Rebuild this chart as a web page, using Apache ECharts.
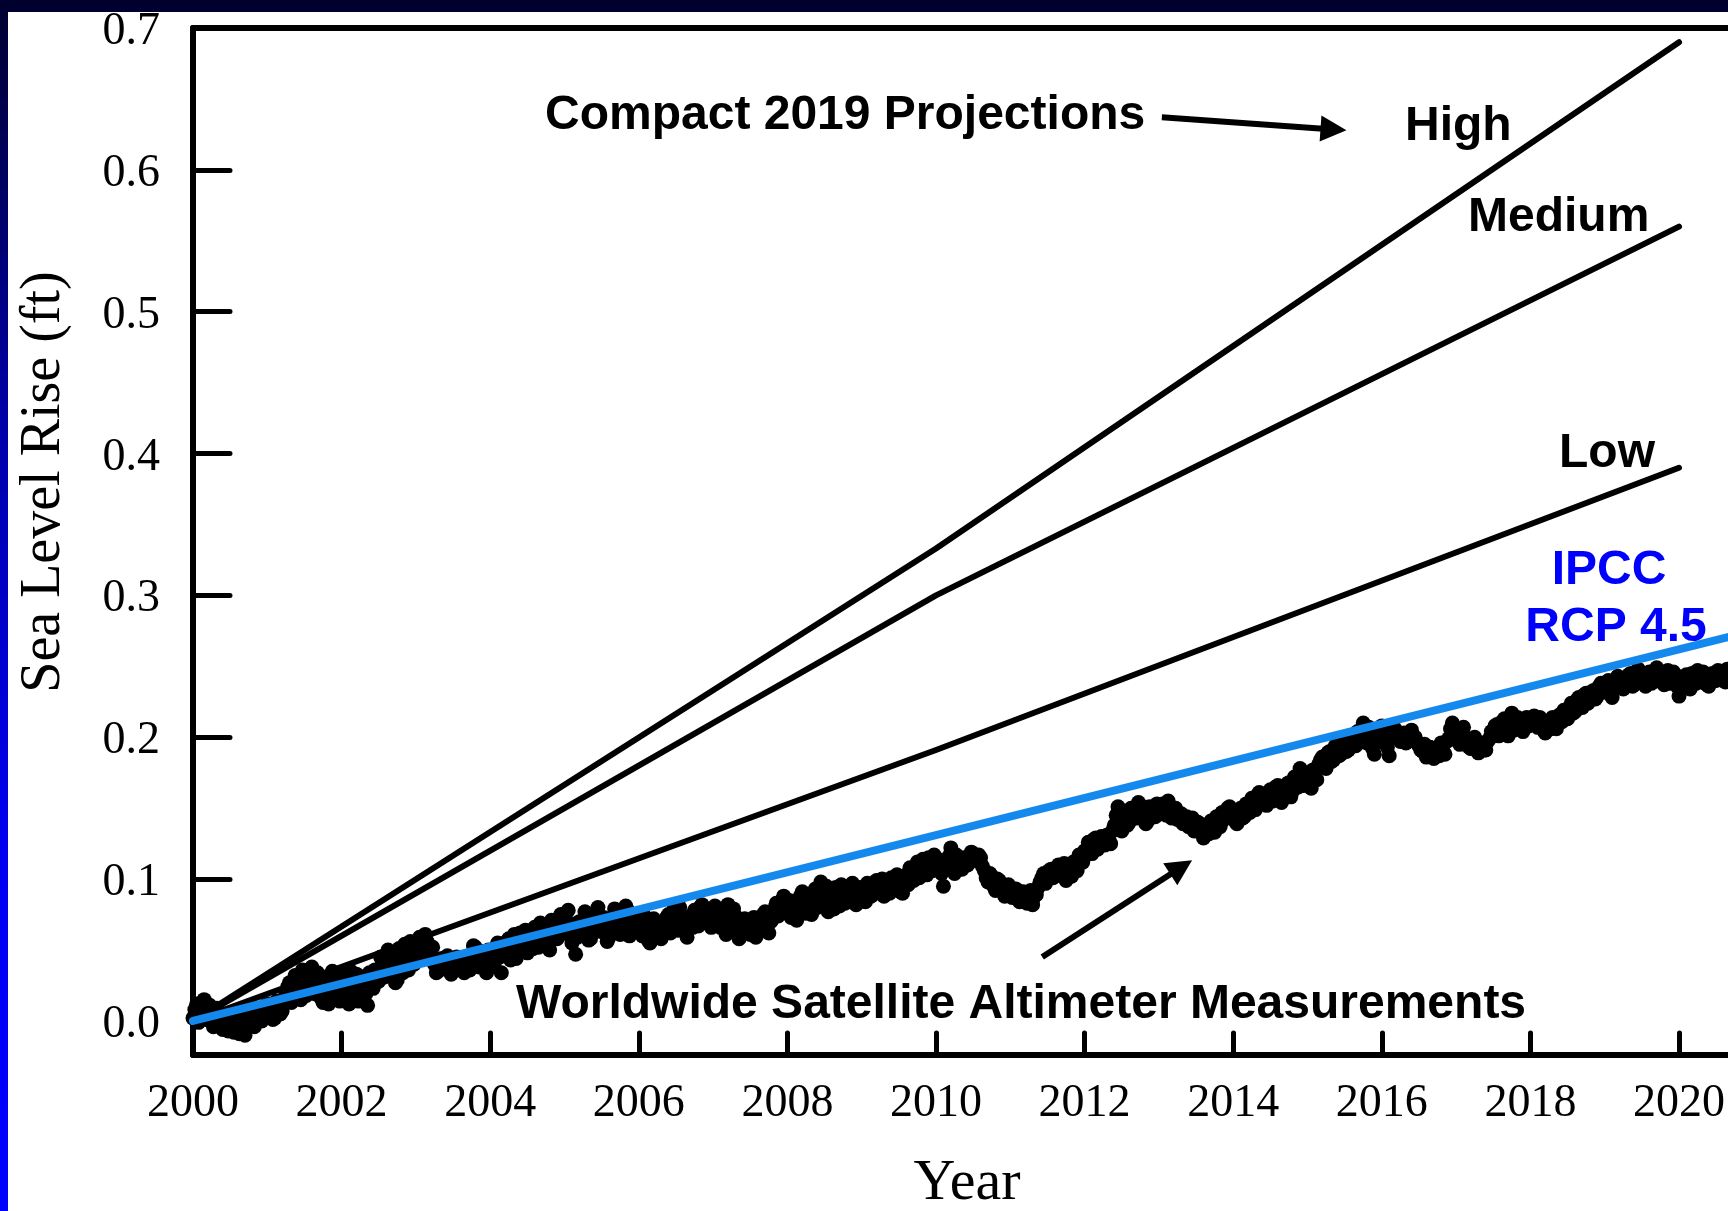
<!DOCTYPE html>
<html>
<head>
<meta charset="utf-8">
<script src="https://cdn.jsdelivr.net/npm/echarts@6/dist/echarts.min.js"></script>
<style>
html,body{margin:0;padding:0;width:1728px;height:1211px;overflow:hidden;
  background:linear-gradient(to bottom,#00002e 0%,#0000a8 35%,#0000f0 70%,#0000ff 100%);}
#panel{position:absolute;left:8px;top:12px;width:1720px;height:1199px;background:#ffffff;}
#chart{position:absolute;left:0;top:0;width:1728px;height:1211px;}
</style>
</head>
<body>
<div id="panel"></div>
<div id="chart"></div>
<script>
// ---------- DATA ----------
const xTickValues = [2000, 2002, 2004, 2006, 2008, 2010, 2012, 2014, 2016, 2018, 2020];
const yTickValues = [0, 0.1, 0.2, 0.3, 0.4, 0.5, 0.6, 0.7];

// Compact 2019 projections (ft)
const projYears = [2000, 2010, 2020];
const highValues = [0, 0.333, 0.690];
const mediumValues = [0, 0.300, 0.560];
const lowValues = [0, 0.191, 0.390];

// IPCC RCP 4.5
const ipccYears = [2000, 2010, 2021];
const ipccValues = [0, 0.131, 0.275];

// Worldwide satellite altimeter measurements (ft), two interleaved sample sets
// set A at 2000.000 + k*0.05 yr, set B at 2000.025 + k*0.05 yr
const satStartA = 2000.0;
const satStartB = 2000.025;
const satStepYear = 0.05;
const satValuesA = [
  /*2000*/ 0.002,0.012,0.006,0.015,0.004,0.008,-0.002,0.005,-0.006,0.001,-0.003,-0.008,0.000,-0.004,-0.010,-0.002,0.003,-0.001,0.006,0.002,
  /*2001*/ 0.004,0.009,0.002,0.011,0.007,0.018,0.027,0.021,0.029,0.015,0.033,0.024,0.038,0.019,0.028,0.013,0.031,0.022,0.017,0.026,
  /*2002*/ 0.020,0.029,0.012,0.024,0.033,0.018,0.027,0.011,0.030,0.036,0.028,0.041,0.033,0.047,0.038,0.029,0.044,0.054,0.036,0.048,
  /*2003*/ 0.052,0.059,0.049,0.056,0.046,0.040,0.035,0.044,0.038,0.042,0.036,0.045,0.039,0.034,0.041,0.047,0.052,0.038,0.044,0.034,
  /*2004*/ 0.049,0.040,0.055,0.034,0.047,0.058,0.051,0.044,0.062,0.053,0.048,0.059,0.066,0.052,0.057,0.063,0.050,0.068,0.058,0.075,
  /*2005*/ 0.066,0.078,0.055,0.047,0.070,0.062,0.074,0.058,0.067,0.080,0.063,0.071,0.059,0.066,0.075,0.061,0.069,0.078,0.064,0.072,
  /*2006*/ 0.070,0.060,0.066,0.055,0.072,0.063,0.058,0.068,0.075,0.066,0.071,0.080,0.069,0.059,0.074,0.078,0.067,0.082,0.073,0.077,
  /*2007*/ 0.071,0.079,0.066,0.075,0.082,0.068,0.074,0.058,0.065,0.070,0.061,0.073,0.064,0.069,0.077,0.062,0.072,0.083,0.076,0.088,
  /*2008*/ 0.078,0.073,0.084,0.079,0.091,0.076,0.082,0.087,0.080,0.098,0.090,0.077,0.085,0.094,0.081,0.088,0.093,0.084,0.090,0.086,
  /*2009*/ 0.091,0.084,0.095,0.089,0.099,0.092,0.088,0.096,0.101,0.093,0.098,0.090,0.103,0.108,0.099,0.112,0.104,0.110,0.115,0.106,
  /*2010*/ 0.108,0.113,0.095,0.110,0.122,0.104,0.112,0.107,0.114,0.116,0.118,0.113,0.115,0.106,0.098,0.102,0.092,0.099,0.095,0.090,
  /*2011*/ 0.094,0.088,0.092,0.085,0.090,0.086,0.082,0.089,0.098,0.104,0.100,0.107,0.102,0.110,0.105,0.099,0.108,0.112,0.106,0.115,
  /*2012*/ 0.120,0.126,0.118,0.129,0.123,0.127,0.131,0.125,0.138,0.151,0.134,0.145,0.140,0.148,0.143,0.152,0.146,0.141,0.150,0.144,
  /*2013*/ 0.149,0.153,0.145,0.151,0.147,0.142,0.146,0.140,0.137,0.143,0.135,0.139,0.129,0.136,0.141,0.133,0.140,0.147,0.143,0.151,
  /*2014*/ 0.146,0.139,0.150,0.144,0.152,0.157,0.149,0.161,0.155,0.152,0.163,0.158,0.166,0.154,0.160,0.168,0.162,0.170,0.178,0.166,
  /*2015*/ 0.172,0.164,0.176,0.181,0.186,0.178,0.190,0.184,0.193,0.188,0.196,0.191,0.199,0.194,0.200,0.210,0.196,0.203,0.188,0.205,
  /*2016*/ 0.208,0.198,0.187,0.201,0.204,0.197,0.203,0.199,0.205,0.200,0.194,0.190,0.186,0.193,0.185,0.191,0.196,0.188,0.199,0.210,
  /*2017*/ 0.202,0.195,0.207,0.198,0.192,0.200,0.189,0.196,0.191,0.199,0.203,0.209,0.205,0.213,0.201,0.217,0.208,0.212,0.204,0.214,
  /*2018*/ 0.210,0.215,0.207,0.212,0.203,0.209,0.214,0.206,0.216,0.219,0.213,0.224,0.218,0.228,0.221,0.231,0.226,0.233,0.229,0.238,
  /*2019*/ 0.232,0.240,0.228,0.236,0.242,0.234,0.238,0.245,0.237,0.248,0.241,0.236,0.246,0.239,0.249,0.243,0.237,0.247,0.240,0.244,
  /*2020*/ 0.229,0.238,0.244,0.234,0.241,0.247,0.239,0.243,0.236,0.245,0.240,0.246,0.242,0.248,0.241,0.244,0.239,0.246,0.243,0.247
];
const satValuesB = [
  /*2000*/ 0.008,-0.001,0.013,0.001,0.011,-0.004,0.009,0.000,0.004,-0.007,0.006,-0.002,-0.009,0.003,-0.005,0.007,-0.004,0.009,0.000,0.011,
  /*2001*/ 0.012,0.001,0.014,0.005,0.016,0.024,0.013,0.032,0.020,0.036,0.018,0.030,0.026,0.034,0.016,0.027,0.012,0.035,0.029,0.014,
  /*2002*/ 0.032,0.015,0.035,0.021,0.014,0.031,0.019,0.034,0.023,0.029,0.045,0.031,0.050,0.036,0.027,0.051,0.034,0.041,0.056,0.040,
  /*2003*/ 0.045,0.054,0.061,0.047,0.052,0.034,0.043,0.037,0.046,0.033,0.040,0.038,0.044,0.042,0.036,0.053,0.043,0.049,0.037,0.050,
  /*2004*/ 0.038,0.052,0.045,0.050,0.056,0.043,0.061,0.055,0.049,0.064,0.057,0.051,0.060,0.069,0.054,0.059,0.071,0.061,0.070,0.063,
  /*2005*/ 0.071,0.060,0.068,0.059,0.064,0.077,0.057,0.071,0.075,0.065,0.073,0.056,0.068,0.079,0.062,0.072,0.081,0.060,0.075,0.067,
  /*2006*/ 0.064,0.074,0.057,0.068,0.061,0.069,0.065,0.073,0.062,0.079,0.064,0.074,0.063,0.070,0.066,0.071,0.080,0.070,0.079,0.066,
  /*2007*/ 0.081,0.069,0.077,0.061,0.073,0.079,0.063,0.068,0.072,0.063,0.069,0.059,0.072,0.075,0.066,0.070,0.079,0.074,0.085,0.078,
  /*2008*/ 0.085,0.080,0.071,0.088,0.083,0.089,0.075,0.093,0.086,0.082,0.095,0.088,0.079,0.090,0.096,0.083,0.087,0.097,0.082,0.094,
  /*2009*/ 0.086,0.097,0.088,0.094,0.091,0.100,0.095,0.090,0.097,0.103,0.091,0.101,0.096,0.102,0.107,0.101,0.114,0.103,0.108,0.117,
  /*2010*/ 0.114,0.104,0.109,0.116,0.111,0.117,0.108,0.115,0.110,0.119,0.114,0.117,0.109,0.101,0.104,0.095,0.100,0.093,0.088,0.096,
  /*2011*/ 0.087,0.093,0.084,0.091,0.083,0.092,0.088,0.094,0.101,0.097,0.106,0.101,0.108,0.103,0.111,0.106,0.102,0.110,0.117,0.112,
  /*2012*/ 0.117,0.122,0.128,0.121,0.130,0.124,0.128,0.134,0.145,0.141,0.148,0.138,0.150,0.144,0.154,0.145,0.139,0.151,0.146,0.153,
  /*2013*/ 0.146,0.150,0.155,0.143,0.150,0.145,0.139,0.144,0.141,0.134,0.140,0.132,0.137,0.132,0.138,0.144,0.137,0.142,0.150,0.145,
  /*2014*/ 0.141,0.148,0.143,0.153,0.147,0.151,0.159,0.153,0.160,0.157,0.155,0.165,0.159,0.163,0.167,0.158,0.172,0.165,0.171,0.175,
  /*2015*/ 0.168,0.177,0.170,0.184,0.180,0.189,0.183,0.194,0.187,0.197,0.190,0.201,0.195,0.204,0.197,0.203,0.207,0.192,0.200,0.197,
  /*2016*/ 0.203,0.193,0.200,0.206,0.199,0.202,0.196,0.202,0.198,0.196,0.191,0.195,0.189,0.188,0.192,0.187,0.190,0.197,0.206,0.201,
  /*2017*/ 0.197,0.204,0.200,0.193,0.197,0.193,0.195,0.191,0.197,0.204,0.208,0.201,0.211,0.206,0.210,0.205,0.214,0.207,0.211,0.208,
  /*2018*/ 0.213,0.209,0.214,0.205,0.211,0.206,0.210,0.213,0.211,0.215,0.221,0.217,0.226,0.222,0.230,0.224,0.232,0.227,0.236,0.232,
  /*2019*/ 0.237,0.230,0.238,0.243,0.235,0.240,0.244,0.236,0.243,0.239,0.245,0.242,0.238,0.247,0.241,0.246,0.244,0.238,0.246,0.236,
  /*2020*/ 0.233,0.242,0.237,0.245,0.238,0.242,0.246,0.237,0.244,0.240,0.247,0.243,0.239,0.245,0.246,0.240,0.245,0.242,0.248,0.244
];

// annotation arrows (data coordinates): [tailYear, tailValue, headYear, headValue]
const arrowProjections = [2013.04, 0.637, 2015.35, 0.6285];
const arrowSatellite = [2011.43, 0.0451, 2013.30, 0.1084];

// ---------- BUILD ----------
const satData = satValuesA.map((v, i) => [+(satStartA + i * satStepYear).toFixed(3), v])
  .concat(satValuesB.map((v, i) => [+(satStartB + i * satStepYear).toFixed(3), v]));
const pairs = (xs, ys) => xs.map((x, i) => [x, ys[i]]);

const serifFont = "'Liberation Serif', 'Times New Roman', serif";
const sansFont = "'Liberation Sans', Arial, sans-serif";

const chart = echarts.init(document.getElementById('chart'), null, {renderer: 'canvas'});

const blackLine = (name, ys) => ({
  name, type: 'line', data: pairs(projYears, ys), showSymbol: false, symbol: 'none',
  lineStyle: {color: '#000', width: 6, cap: 'round', join: 'round'}, z: 3, silent: true
});

const option = {
  animation: false,
  backgroundColor: 'transparent',
  grid: {left: 193, top: 28, right: 0, height: 1027, containLabel: false},
  xAxis: [
    {
      type: 'value', min: 2000, max: 2020.65, position: 'bottom',
      axisLine: {show: true, onZero: false, lineStyle: {color: '#000', width: 6}},
      axisTick: {show: true, inside: true, length: 22, customValues: xTickValues,
        lineStyle: {color: '#000', width: 5, cap: 'round'}},
      axisLabel: {show: true, customValues: xTickValues, margin: 26, color: '#000',
        fontFamily: serifFont, fontSize: 46, formatter: v => String(v)},
      splitLine: {show: false}
    },
    {
      type: 'value', min: 2000, max: 2020.65, position: 'top',
      axisLine: {show: true, onZero: false, lineStyle: {color: '#000', width: 6}},
      axisTick: {show: false}, axisLabel: {show: false}, splitLine: {show: false}
    }
  ],
  yAxis: {
    type: 'value', min: -0.024, max: 0.7,
    axisLine: {show: true, onZero: false, lineStyle: {color: '#000', width: 6}},
    axisTick: {show: true, inside: true, length: 37, customValues: yTickValues,
      lineStyle: {color: '#000', width: 5, cap: 'round'}},
    axisLabel: {show: true, customValues: yTickValues, margin: 33, color: '#000',
      fontFamily: serifFont, fontSize: 46, formatter: v => '{v|' + v.toFixed(1) + '}',
      rich: {v: {fontFamily: serifFont, fontSize: 46, color: '#000', padding: [8, 0, 0, 0]}}},
    splitLine: {show: false}
  },
  series: [
    {
      name: 'Worldwide Satellite Altimeter Measurements', type: 'scatter', data: satData,
      symbol: 'circle', symbolSize: 15, itemStyle: {color: '#000', opacity: 1}, z: 2, silent: true,
      large: false
    },
    blackLine('High', highValues),
    blackLine('Medium', mediumValues),
    Object.assign(blackLine('Low', lowValues), {
      markLine: {
        silent: true, symbol: ['none', 'triangle'], symbolSize: [26, 26],
        label: {show: false}, emphasis: {disabled: true},
        lineStyle: {color: '#000', width: 6, type: 'solid', cap: 'butt'},
        data: [
          [{coord: [arrowProjections[0], arrowProjections[1]]}, {coord: [arrowProjections[2], arrowProjections[3]]}],
          [{coord: [arrowSatellite[0], arrowSatellite[1]]}, {coord: [arrowSatellite[2], arrowSatellite[3]]}]
        ]
      }
    }),
    {
      name: 'IPCC RCP 4.5', type: 'line', data: pairs(ipccYears, ipccValues), showSymbol: false, symbol: 'none',
      lineStyle: {color: '#1588ee', width: 8, cap: 'round'}, z: 4, silent: true
    }
  ],
  graphic: [
    {type: 'text', x: 545, y: 116, z: 10, style: {text: 'Compact 2019 Projections', fill: '#000',
      font: "bold 48px " + sansFont, align: 'left', verticalAlign: 'middle'}},
    {type: 'text', x: 1405, y: 127, z: 10, style: {text: 'High', fill: '#000',
      font: "bold 48px " + sansFont, align: 'left', verticalAlign: 'middle'}},
    {type: 'text', x: 1468, y: 218, z: 10, style: {text: 'Medium', fill: '#000',
      font: "bold 48px " + sansFont, align: 'left', verticalAlign: 'middle'}},
    {type: 'text', x: 1559, y: 454, z: 10, style: {text: 'Low', fill: '#000',
      font: "bold 48px " + sansFont, align: 'left', verticalAlign: 'middle'}},
    {type: 'text', x: 1609, y: 571, z: 10, style: {text: 'IPCC', fill: '#0000ff',
      font: "bold 48px " + sansFont, align: 'center', verticalAlign: 'middle'}},
    {type: 'text', x: 1616, y: 628, z: 10, style: {text: 'RCP 4.5', fill: '#0000ff',
      font: "bold 48px " + sansFont, align: 'center', verticalAlign: 'middle'}},
    {type: 'text', x: 516, y: 1005, z: 10, style: {text: 'Worldwide Satellite Altimeter Measurements', fill: '#000',
      font: "bold 48px " + sansFont, align: 'left', verticalAlign: 'middle'}},
    {type: 'text', x: 967, y: 1184, z: 10, style: {text: 'Year', fill: '#000',
      font: "58px " + serifFont, align: 'center', verticalAlign: 'middle'}},
    {type: 'text', x: 44, y: 482, rotation: Math.PI / 2, z: 10, style: {text: 'Sea Level Rise (ft)', fill: '#000',
      font: "56px " + serifFont, align: 'center', verticalAlign: 'middle'}}
  ]
};
chart.setOption(option);
</script>
</body>
</html>
